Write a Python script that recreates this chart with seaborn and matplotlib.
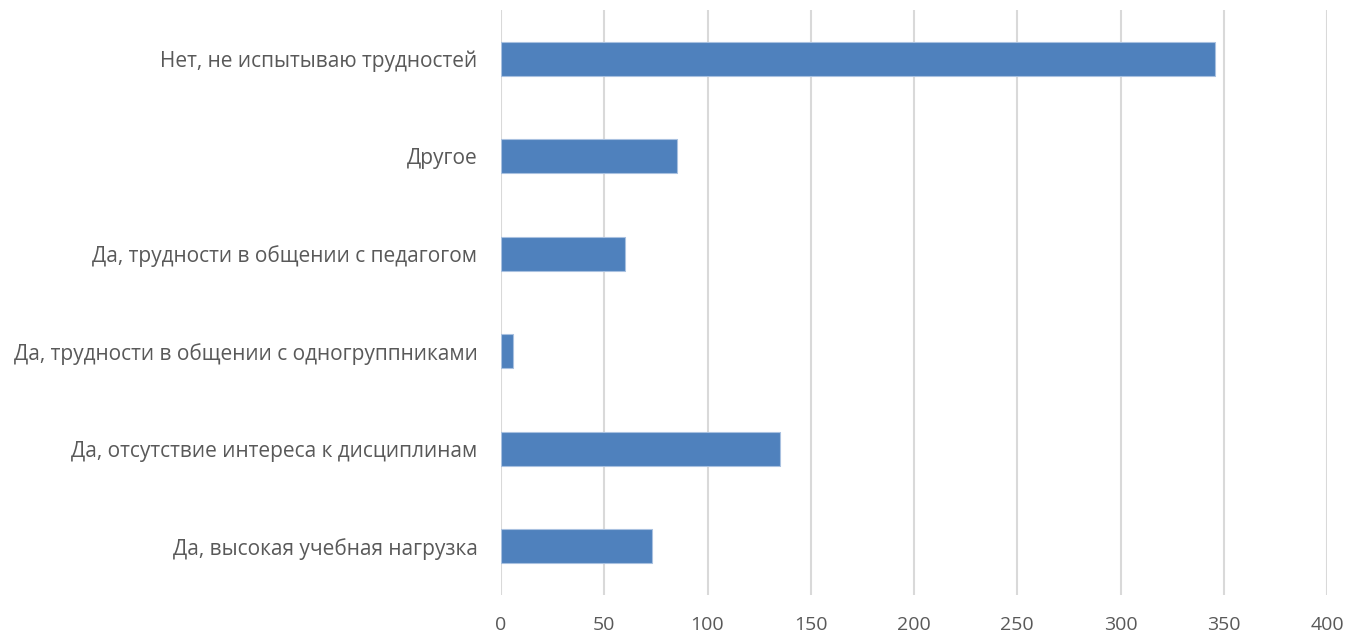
import pandas as pd
import matplotlib.pyplot as plt
import seaborn as sns

# данные
categories = [
    "Нет, не испытываю трудностей",
    "Другое",
    "Да, трудности в общении с педагогом",
    "Да, трудности в общении с одногруппниками",
    "Да, отсутствие интереса к дисциплинам",
    "Да, высокая учебная нагрузка",
]
counts = [346, 85, 60, 6, 135, 73]
x_ticks = [0, 50, 100, 150, 200, 250, 300, 350, 400]

df = pd.DataFrame({"answer": categories, "count": counts})

sns.set_style("white")
plt.rcParams["font.family"] = ["Open Sans", "DejaVu Sans"]

fig = plt.figure(figsize=(13.51, 6.39), dpi=100)
ax = fig.add_axes([501 / 1351, 44 / 639, 826 / 1351, 585 / 639])

sns.barplot(data=df, x="count", y="answer", order=categories, orient="h",
            color="#4F81BD", saturation=1, width=0.35,
            edgecolor="#A9C1E0", linewidth=0.8, ax=ax, zorder=3)

ax.set_xlim(0, 400)
ax.set_xticks(x_ticks)
ax.set_xlabel("")
ax.set_ylabel("")
ax.grid(axis="x", color="#D9D9D9", linewidth=1.5, zorder=0)
ax.grid(axis="y", visible=False)
for s in ax.spines.values():
    s.set_visible(False)

ax.tick_params(axis="y", length=0, pad=17, labelsize=15, labelcolor="#595959")
ax.tick_params(axis="x", length=0, pad=15, labelsize=14, labelcolor="#595959")

plt.savefig("out.png", dpi=100)
